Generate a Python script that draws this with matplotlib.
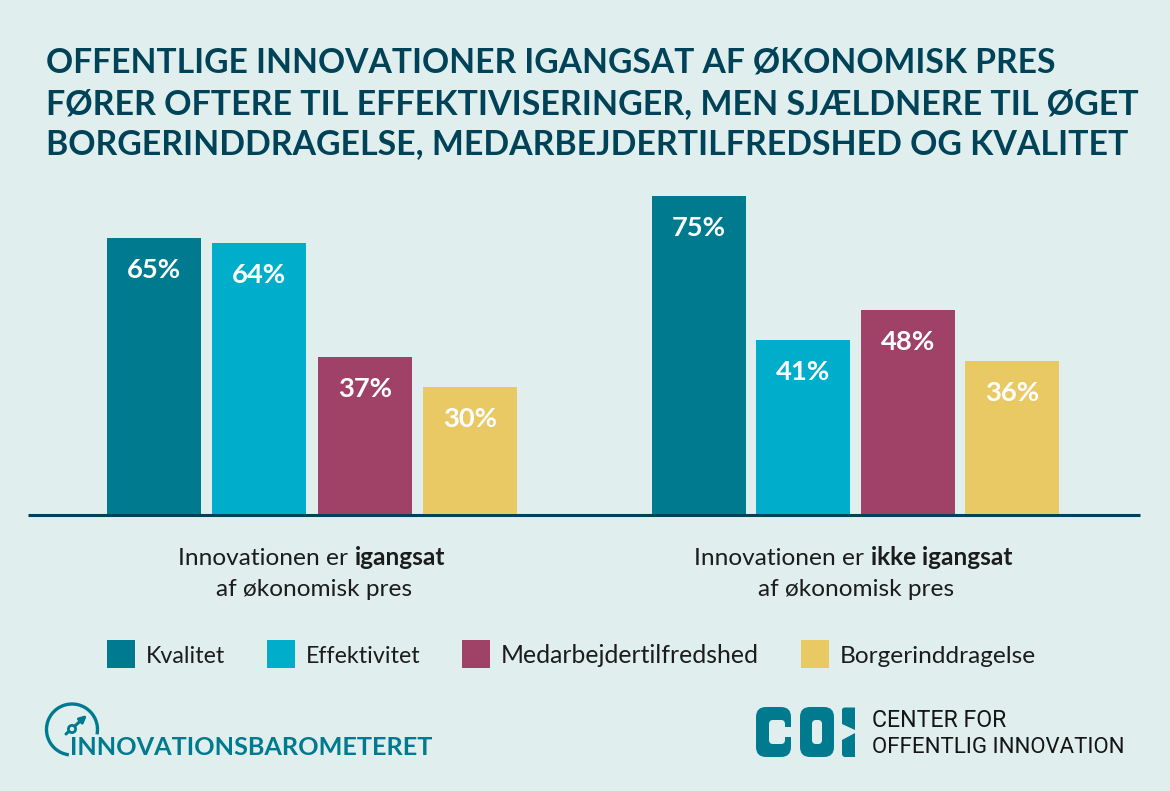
import matplotlib
matplotlib.use("Agg")
import matplotlib.pyplot as plt
from matplotlib.patches import Rectangle, Arc, Circle, FancyArrowPatch, FancyBboxPatch, Polygon

W, H = 1170, 791
BG = "#e0efed"
DARK = "#004358"
TEAL = "#007a8f"

title_lines = ["OFFENTLIGE INNOVATIONER IGANGSAT AF ØKONOMISK PRES",
               "FØRER OFTERE TIL EFFEKTIVISERINGER, MEN SJÆLDNERE TIL ØGET",
               "BORGERINDDRAGELSE, MEDARBEJDERTILFREDSHED OG KVALITET"]
series = ["Kvalitet", "Effektivitet", "Medarbejdertilfredshed", "Borgerinddragelse"]
colors = [TEAL, "#00aecb", "#a04168", "#e9c964"]
group1 = [65, 64, 37, 30]
group2 = [75, 41, 48, 36]

plt.rcParams['font.family'] = ['Lato', 'DejaVu Sans']
fig = plt.figure(figsize=(W/100, H/100), dpi=100, facecolor=BG)
bg = fig.add_axes([0, 0, 1, 1]); bg.set_xlim(0, W); bg.set_ylim(H, 0); bg.axis("off")

base, top = 514, 196
ymax = 75
ax = fig.add_axes([0, 1-base/H, 1, (base-top)/H], facecolor="none")
ax.set_xlim(0, W); ax.set_ylim(0, ymax); ax.axis("off")
lefts1 = [107, 212, 318, 423]
lefts2 = [652, 756, 861, 965]
bw = 93.5
for lefts, vals in ((lefts1, group1), (lefts2, group2)):
    for l, v, c in zip(lefts, vals, colors):
        ax.bar(l, v, width=bw, align="edge", color=c)
        ax.annotate(f"{v}%", (l+bw/2, v), xytext=(0, -32), textcoords="offset pixels",
                    ha="center", va="center", color="white", fontsize=19.7, fontweight="bold")
bg.plot([28, 1140], [514.5, 514.5], color=DARK, lw=2.2, solid_capstyle="butt")

r = fig.canvas.get_renderer()
def fit(x, y, s, width, **kw):
    """Place text on a baseline and scale font size so it spans the measured width."""
    t = bg.text(x, y, s, va="baseline", **kw)
    w = t.get_window_extent(r).width
    t.set_fontsize(t.get_fontsize()*width/w)
    return t

for y, line, wd in zip((73, 114, 154), title_lines, (1009, 1093, 1082)):
    fit(46.5, y, line, wd, color=DARK, fontsize=24, fontweight="bold")

TXT = "#1c1c1c"
FS = 17.6
def mixed(cx, y, pre, bold):
    t1 = bg.text(0, y, pre, fontsize=FS, color=TXT, va="baseline")
    t2 = bg.text(0, y, bold, fontsize=FS, color=TXT, va="baseline", fontweight="bold")
    w1 = t1.get_window_extent(r).width; w2 = t2.get_window_extent(r).width
    x = cx-(w1+w2)/2
    t1.set_x(x); t2.set_x(x+w1+1)

mixed(311, 565, "Innovationen er ", "igangsat")
bg.text(314, 596, "af økonomisk pres", fontsize=FS, color=TXT, ha="center", va="baseline")
mixed(853, 565, "Innovationen er ", "ikke igangsat")
bg.text(856, 596, "af økonomisk pres", fontsize=FS, color=TXT, ha="center", va="baseline")

for x, t, c, tx, wd in zip([107, 267, 462, 801], series, colors, [146, 306, 501, 840], [79, 115, 258, 196]):
    bg.add_patch(Rectangle((x, 640), 28, 28, color=c, lw=0))
    fit(tx, 663, t, wd, fontsize=FS, color=TXT)

# Innovationsbarometeret logo
bg.add_patch(Arc((72, 729.5), 51, 51, theta1=97, theta2=371, color=TEAL, lw=2.4))
bg.add_patch(FancyArrowPatch((66, 734), (87, 715), arrowstyle="-|>", mutation_scale=10, color=TEAL, lw=2.2, shrinkA=0, shrinkB=0))
bg.add_patch(Circle((72, 729), 3.6, fc=BG, ec=TEAL, lw=2, zorder=5))
fit(70, 755, "INNOVATIONSBAROMETERET", 363, fontsize=20, fontweight="bold", color=TEAL, zorder=6)

# COI logo
def rbox(x0, y0, x1, y1, rad, fc):
    bg.add_patch(FancyBboxPatch((x0+rad, y0+rad), x1-x0-2*rad, y1-y0-2*rad,
                                boxstyle=f"round,pad={rad},rounding_size={rad}", fc=fc, ec="none"))
rbox(756, 707, 791, 757, 10, TEAL)
rbox(769, 720, 785, 744, 4, BG)
bg.add_patch(Rectangle((780, 727), 12, 10, color=BG, lw=0))
rbox(800, 707, 834, 757, 10, TEAL)
rbox(812, 720, 822, 744, 4, BG)
bg.add_patch(Polygon([(844, 707.5), (855, 707.5), (855, 730), (842, 724), (842, 709)], fc=TEAL, ec="none"))
bg.add_patch(Polygon([(855, 733), (855, 757), (844, 757), (842, 755), (842, 740)], fc=TEAL, ec="none"))
for y, s, wd in ((727, "CENTER FOR", 135), (753, "OFFENTLIG INNOVATION", 254)):
    fit(872, y, s, wd, fontsize=17, color="#151515", family="Roboto")

fig.savefig("out.png", dpi=100, facecolor=BG)
